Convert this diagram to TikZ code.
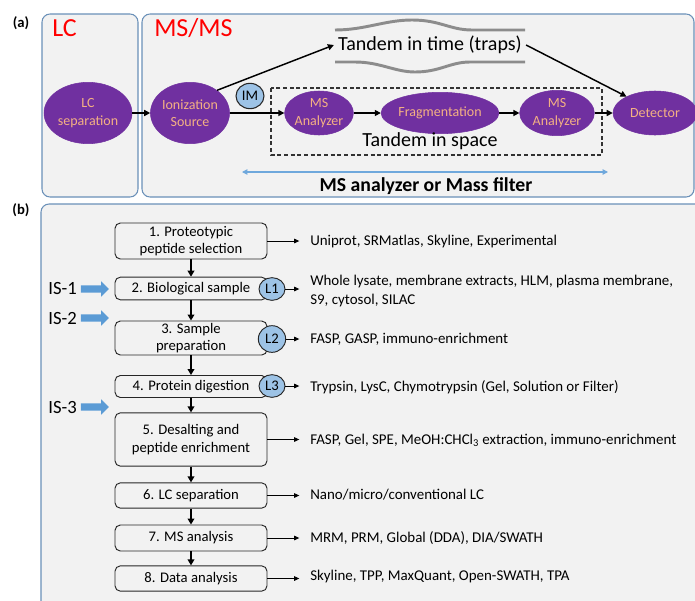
\documentclass[tikz,border=0pt]{standalone}
\usepackage{fontspec}
\setmainfont{Carlito}
\usetikzlibrary{shapes.geometric,shapes.arrows,arrows.meta}
\definecolor{purp}{HTML}{7030A0}
\definecolor{gold}{HTML}{F4B183}
\definecolor{panelc}{HTML}{6A90B8}
\definecolor{panelf}{HTML}{F2F2F2}
\definecolor{lblue}{HTML}{9DC3E6}
\definecolor{isblue}{HTML}{5B9BD5}
\definecolor{wavec}{HTML}{8C8C8C}
\definecolor{redc}{HTML}{FF0000}
\definecolor{arrblue}{HTML}{6FA8DC}
\begin{document}
\begin{tikzpicture}[x=0.75pt,y=-0.75pt,
  panel/.style={draw=panelc, fill=panelf, rounded corners=6pt, line width=0.8pt},
  ell/.style={ellipse, fill=purp, draw=purp, text=gold, font=\fontsize{10.5}{13}\selectfont, align=center, inner sep=0pt},
  arr/.style={line width=1.1pt, -{Triangle[length=4.5pt,width=4.5pt]}},
  varr/.style={line width=1.5pt, -{Triangle[length=4.5pt,width=5pt]}},
  rarr/.style={line width=0.7pt, -{Triangle[length=4pt,width=3.5pt]}, shorten >=8pt},
  lcirc/.style={ellipse, fill=lblue, draw=black!85, line width=0.7pt, inner sep=0pt, minimum width=19.5pt, minimum height=17pt, font=\fontsize{11}{12}\selectfont},
  stepbox/.style={draw=black!85, fill=panelf, line width=0.7pt, rounded corners=4pt, minimum width=114pt, align=center, font=\fontsize{11}{13}\selectfont, inner sep=1pt},
  rtext/.style={anchor=west, inner sep=0pt, align=left, font=\fontsize{11.2}{14.25}\selectfont},
  istext/.style={anchor=east, inner sep=0pt, font=\fontsize{14}{15}\selectfont},
  isarr/.style={single arrow, fill=isblue, draw=none, minimum height=21pt, inner sep=2.6pt, single arrow head extend=3pt},
  wave/.style={draw=wavec, line width=2.2pt},
  redlab/.style={text=redc, anchor=west, inner sep=0pt, font=\fontsize{19.5}{22}\selectfont},
  panlab/.style={inner sep=0pt, font=\bfseries\fontsize{11}{13}\selectfont}
]
\useasboundingbox (0,0) rectangle (695,600);
% ---------------- panel (a)
\node[panlab] (la) at (21,23) {(a)};
\draw[panel] (42,14) rectangle (138,197);
\draw[panel] (142,14) rectangle (694,197);
\node[redlab] (lct) at (52,28) {LC};
\node[redlab] (mst) at (154,28) {MS/MS};

\node[ell, minimum width=66pt, minimum height=46pt] (lcs) at (88,113) {LC\\separation};
\node[ell, minimum width=58pt, minimum height=46pt] (ion) at (190,113) {Ionization\\Source};
\node[ell, minimum width=50pt, minimum height=33pt] (ms1) at (319,113) {MS\\Analyzer};
\node[ell, minimum width=88pt, minimum height=31pt] (frag) at (440,113) {Fragmentation};
\node[ell, minimum width=56pt, minimum height=34pt] (ms2) at (557,113) {MS\\Analyzer};
\node[ell, minimum width=63pt, minimum height=33pt] (det) at (655,113) {Detector};
\node[ellipse, fill=lblue, draw=black!85, line width=0.8pt, inner sep=0pt, minimum width=21pt, minimum height=19pt, font=\fontsize{11}{12}\selectfont] (im) at (250,96) {IM};

\draw[black!80, dashed, dash pattern=on 3pt off 2pt, line width=0.8pt] (271,88) rectangle (602,155);
\node[font=\fontsize{15}{17}\selectfont, inner sep=3pt] (tt) at (430,45) {Tandem in time (traps)};
\node[font=\fontsize{15}{17}\selectfont, inner sep=0pt] (ts) at (430,141) {Tandem in space};

\draw[wave] (335,30) .. controls (365,30) and (385,20) .. (412,20) .. controls (440,20) and (450,30) .. (472,30) -- (525,30);
\draw[wave] (335,62) -- (355,62) .. controls (380,62) and (395,72) .. (415,72) .. controls (440,72) and (450,62) .. (470,62) -- (525,62);

\draw[arr] (lcs.east) -- (ion.west);
\draw[arr] (ion.east) -- (ms1.west);
\draw[arr] (ms1.east) -- (frag.west);
\draw[arr] (frag.east) -- (ms2.west);
\draw[arr] (ms2.east) -- (det.west);
\draw[arr] (ion.40) -- (tt.west);
\draw[arr] (tt.east) -- (det.150);

\coordinate (bl) at (242,172);
\coordinate (br) at (608,172);
\draw[arrblue, line width=0.8pt, {Triangle[length=4pt,width=4pt]}-{Triangle[length=4pt,width=4pt]}] (bl) -- (br);
\node[font=\bfseries\fontsize{14.8}{17}\selectfont, inner sep=0pt] (msf) at (426,186) {MS analyzer or Mass filter};

% ---------------- panel (b)
\node[panlab] (lb) at (21,210) {(b)};
\draw[panel] (41,204) rectangle (710,615);

\node[stepbox, minimum height=27pt] (b1) at (191,241) {1. Proteotypic\\peptide selection};
\node[stepbox, minimum height=17pt] (b2) at (191,288.5) {2. Biological sample};
\node[stepbox, minimum height=25.5pt] (b3) at (191,338) {3. Sample\\preparation};
\node[stepbox, minimum height=16.5pt] (b4) at (191,386.5) {4. Protein digestion};
\node[stepbox, minimum height=40pt] (b5) at (191,439.5) {5. Desalting and\\peptide enrichment};
\node[stepbox, minimum height=19pt] (b6) at (191,495.5) {6. LC separation};
\node[stepbox, minimum height=19.5pt] (b7) at (191,538) {7. MS analysis};
\node[stepbox, minimum height=19pt] (b8) at (191,578.5) {8. Data analysis};

\draw[varr] (b1) -- (b2);
\draw[varr] (b2) -- (b3);
\draw[varr] (b3) -- (b4);
\draw[varr] (b4) -- (b5);
\draw[varr] (b5) -- (b6);
\draw[varr] (b6) -- (b7);
\draw[varr] (b7) -- (b8);

\node[lcirc] (l1) at (272,289) {L1};
\node[lcirc, minimum width=20.5pt, minimum height=20pt] (l2) at (272,339) {L2};
\node[lcirc] (l3) at (272,386) {L3};

\node[rtext] (t1) at (310,242) {Uniprot, SRMatlas, Skyline, Experimental};
\node[rtext] (t2) at (310,291.5) {Whole lysate, membrane extracts, HLM, plasma membrane,\\S9, cytosol, SILAC};
\node[rtext] (t3) at (310,339) {FASP, GASP, immuno-enrichment};
\node[rtext] (t4) at (310,387) {Trypsin, LysC, Chymotrypsin (Gel, Solution or Filter)};
\node[rtext] (t5) at (310,440) {FASP, Gel, SPE, MeOH:CHCl\textsubscript{3} extraction, immuno-enrichment};
\node[rtext] (t6) at (310,495) {Nano/micro/conventional LC};
\node[rtext] (t7) at (310,538) {MRM, PRM, Global (DDA), DIA/SWATH};
\node[rtext] (t8) at (310,577) {Skyline, TPP, MaxQuant, Open-SWATH, TPA};

\draw[rarr] (b1.east) -- (b1.east -| t1.west);
\draw[rarr] (l1.east) -- (l1.east -| t2.west);
\draw[rarr] (l2.east) -- (l2.east -| t3.west);
\draw[rarr] (l3.east) -- (l3.east -| t4.west);
\draw[rarr] (b5.east) -- (b5.east -| t5.west);
\draw[rarr] (b6.east) -- (b6.east -| t6.west);
\draw[rarr] (b7.east) -- (b7.east -| t7.west);
\draw[rarr] (b8.east) -- (b8.east -| t8.west);

\node[istext] (is1t) at (77,289) {IS-1};
\node[istext] (is2t) at (77,318) {IS-2};
\node[istext] (is3t) at (77,407) {IS-3};
\node[isarr] (is1) at (93,289) {};
\node[isarr] (is2) at (93,318) {};
\node[isarr] (is3) at (93,407) {};
\end{tikzpicture}
\end{document}
